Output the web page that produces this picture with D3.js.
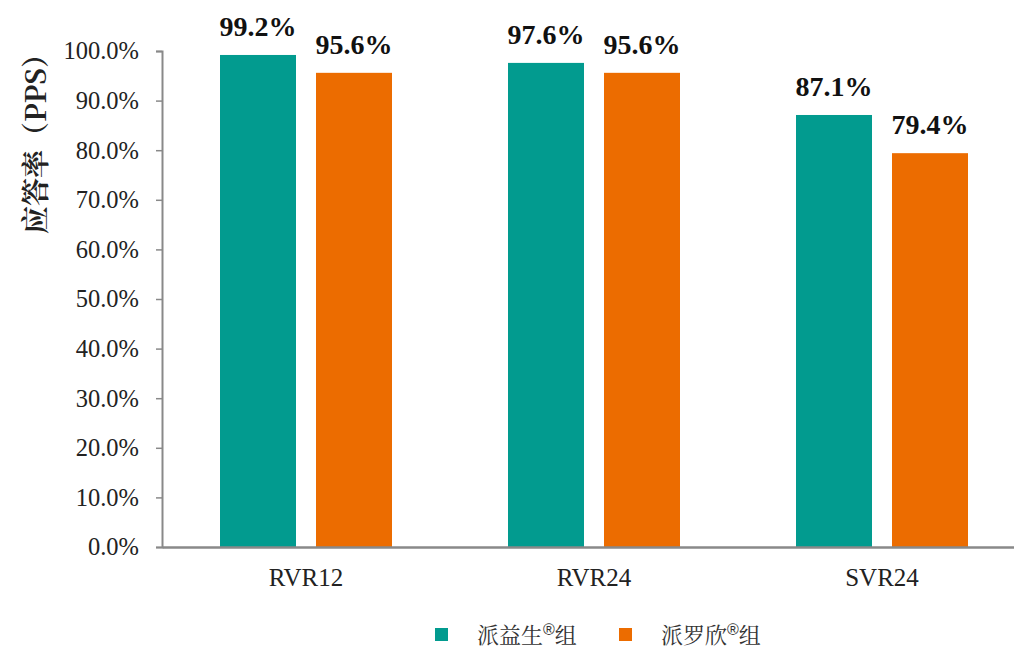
<!DOCTYPE html>
<html>
<head>
<meta charset="utf-8">
<script src="https://cdn.jsdelivr.net/npm/d3@7"></script>
<style>
  body { margin: 0; background: #fff; }
</style>
</head>
<body>
<div id="chart"></div>
<script>
// chart data
const categories = ["RVR12", "RVR24", "SVR24"];
const seriesNames = ["派益生®组", "派罗欣®组"];
const peginterferonA = [99.2, 97.6, 87.1];
const peginterferonB = [95.6, 95.6, 79.4];
const yTicks = [0, 10, 20, 30, 40, 50, 60, 70, 80, 90, 100];
const colors = ["#029b8f", "#ec6c00"];

const serif = "'Liberation Serif', 'Noto Serif CJK SC', serif";
const cjkSerif = "'Noto Serif CJK SC', 'Liberation Serif', serif";

const width = 1014, height = 651;
const plotLeft = 162, plotRight = 1026, plotTop = 51, plotBottom = 547;

const svg = d3.select("#chart")
  .append("svg")
  .attr("width", width)
  .attr("height", height);

const x0 = d3.scaleBand()
  .domain(categories)
  .range([plotLeft, plotRight]);

// bars inside each category
const x1 = d3.scaleBand()
  .domain(seriesNames)
  .range([58, 230])
  .paddingInner(20 / 96);

const y = d3.scaleLinear()
  .domain([0, 100])
  .range([plotBottom, plotTop]);

const rows = categories.map((c, i) => ({
  cat: c,
  vals: [peginterferonA[i], peginterferonB[i]]
}));

// y axis
const yAxis = svg.append("g")
  .attr("transform", "translate(" + plotLeft + ",0)")
  .call(d3.axisLeft(y).tickValues(yTicks).tickSize(6).tickPadding(17)
    .tickFormat(d => d.toFixed(1) + "%"));
yAxis.select(".domain").attr("stroke", "#898989").attr("stroke-width", 2);
yAxis.selectAll(".tick line").attr("stroke", "#898989").attr("stroke-width", 1.5);
yAxis.selectAll(".tick text")
  .style("font-family", serif)
  .style("font-size", "24.5px")
  .attr("fill", "#222");

// bars
const groups = svg.selectAll("g.cat")
  .data(rows)
  .enter()
  .append("g")
  .attr("class", "cat")
  .attr("transform", d => "translate(" + x0(d.cat) + ",0)");

groups.selectAll("rect")
  .data(d => d.vals.map((v, i) => ({ name: seriesNames[i], v: v, i: i })))
  .enter()
  .append("rect")
  .attr("x", d => x1(d.name))
  .attr("y", d => y(d.v))
  .attr("width", x1.bandwidth())
  .attr("height", d => y(0) - y(d.v))
  .attr("fill", d => colors[d.i]);

groups.selectAll("text.val")
  .data(d => d.vals.map((v, i) => ({ name: seriesNames[i], v: v })))
  .enter()
  .append("text")
  .attr("class", "val")
  .attr("x", d => x1(d.name) + x1.bandwidth() / 2)
  .attr("y", d => y(d.v) - 19)
  .attr("text-anchor", "middle")
  .style("font-family", serif)
  .style("font-size", "28px")
  .style("font-weight", "bold")
  .attr("fill", "#111")
  .text(d => d.v.toFixed(1) + "%");

// x axis
const xAxis = svg.append("g")
  .attr("transform", "translate(0," + plotBottom + ")")
  .call(d3.axisBottom(x0).tickSize(0).tickPadding(21));
xAxis.select(".domain").attr("stroke", "#898989").attr("stroke-width", 2.5);
xAxis.selectAll(".tick text")
  .style("font-family", serif)
  .style("font-size", "25px")
  .attr("fill", "#222");

// y title
svg.append("text")
  .attr("transform", "translate(34,137) rotate(-90)")
  .attr("text-anchor", "middle")
  .attr("dominant-baseline", "central")
  .style("font-family", cjkSerif)
  .style("font-size", "28px")
  .style("font-weight", "bold")
  .attr("fill", "#222")
  .text("应答率（PPS）");

// legend
const legendX = [435, 619];
const legend = svg.selectAll("g.legend")
  .data(seriesNames)
  .enter()
  .append("g")
  .attr("class", "legend")
  .attr("transform", (d, i) => "translate(" + legendX[i] + ",628)");
legend.append("rect")
  .attr("width", 13).attr("height", 13)
  .attr("fill", (d, i) => colors[i]);
const legendText = legend.append("text")
  .attr("x", 42).attr("y", 15)
  .style("font-family", cjkSerif)
  .style("font-size", "22px")
  .attr("fill", "#333");
legendText.append("tspan").text(d => d.split("®")[0]);
legendText.append("tspan")
  .attr("dy", -8)
  .style("font-family", "'Liberation Sans', sans-serif")
  .style("font-size", "16px")
  .text("®");
legendText.append("tspan")
  .attr("dy", 8)
  .text(d => d.split("®")[1]);
</script>
</body>
</html>
